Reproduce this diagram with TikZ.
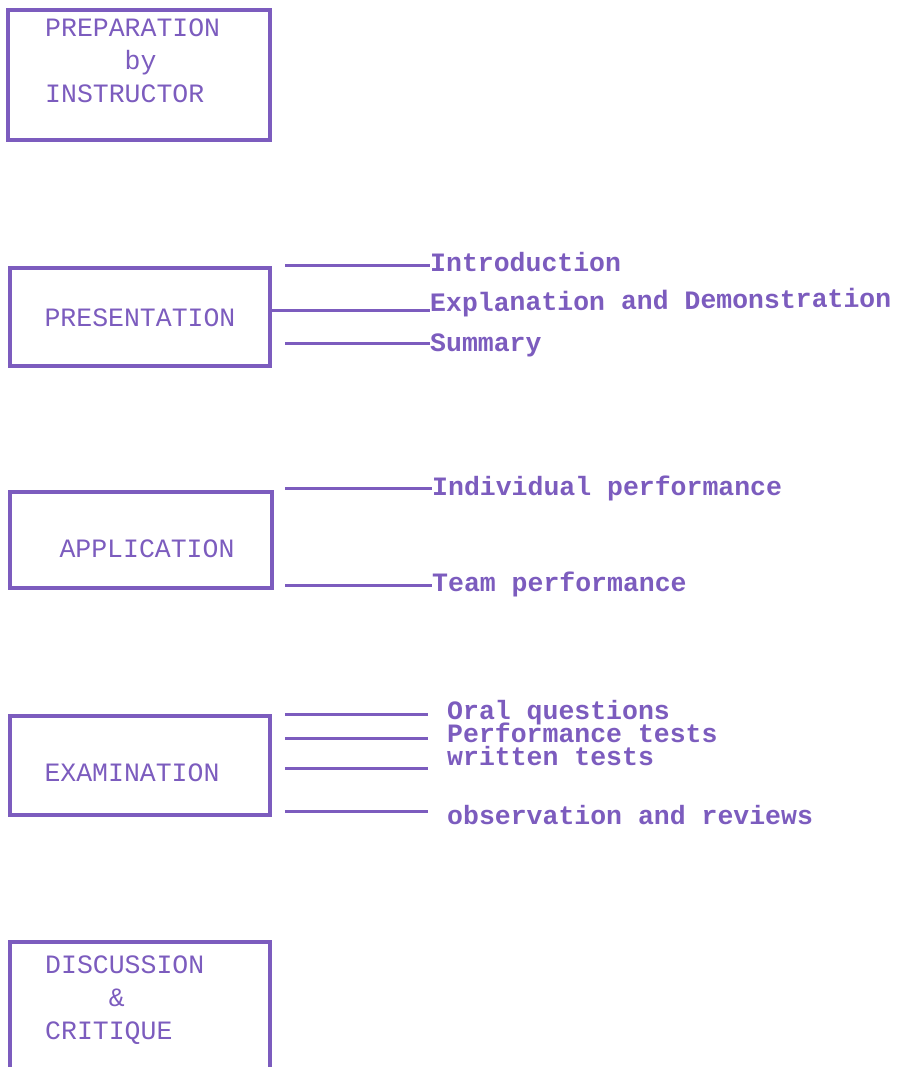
\documentclass[tikz,border=0pt]{standalone}
\usepackage{fontspec}
\newfontfamily\tw{Liberation Mono}
\definecolor{ink}{RGB}{124,92,190}
\begin{document}
\begin{tikzpicture}[x=1pt,y=-1pt,
  box/.style={draw=ink,line width=3.5pt,minimum width=#1,inner sep=0pt},
  boxtext/.style={text=ink,font=\tw\fontsize{26.5}{33}\selectfont,inner sep=0pt,align=left},
  lab/.style={text=ink,font=\tw\bfseries\fontsize{26.5}{33}\selectfont,inner sep=0pt,anchor=west,text height=0.55em,text depth=0pt},
  conn/.style={draw=ink,line width=3pt}]
\useasboundingbox (0,0) rectangle (898,1067);
\clip (0,0) rectangle (898,1067);
% boxes
\node[box=262pt,minimum height=130pt] (b1) at (139,75) {};
\node[box=260pt,minimum height=98pt] (b2) at (140,317) {};
\node[box=262pt,minimum height=96pt] (b3) at (141,540) {};
\node[box=260pt,minimum height=99pt] (b4) at (140,765.5) {};
\node[box=260pt,minimum height=160pt] (b5) at (140,1022) {};
% box texts
\node[boxtext,anchor=north west] (t1) at (45,19) {PREPARATION\\\phantom{XXXXX}by\\INSTRUCTOR};
\node[boxtext] (t2) at (140,318) {PRESENTATION};
\node[boxtext] (t3) at (147,549) {APPLICATION};
\node[boxtext] (t4) at (132,773) {EXAMINATION};
\node[boxtext,anchor=north west] (t5) at (45,956) {DISCUSSION\\\phantom{XXXX}\&\\CRITIQUE};
% labels
\node[lab] (intro) at (430,269) {Introduction};
\node[lab,rotate=0.6] (expl) at (430,309) {Explanation and Demonstration};
\node[lab] (summ) at (430,349) {Summary};
\node[lab] (indiv) at (432,493) {Individual performance};
\node[lab] (team) at (432,589) {Team performance};
\node[lab] (oral) at (447,717) {Oral questions};
\node[lab] (perf) at (447,740) {Performance tests};
\node[lab] (writ) at (447,763) {written tests};
\node[lab] (obs) at (447,822) {observation and reviews};
% connector coordinates
\coordinate (c1) at (285,265);
\coordinate (c2) at (270,310);
\coordinate (c3) at (285,343);
\coordinate (c4) at (285,488);
\coordinate (c5) at (285,585);
\coordinate (c6) at (285,714);
\coordinate (c7) at (285,738);
\coordinate (c8) at (285,768);
\coordinate (c9) at (285,811);
% connectors
\draw[conn] (c1) -- (c1 -| intro.west);
\draw[conn] (b2.east |- c2) -- (c2 -| expl.west);
\draw[conn] (c3) -- (c3 -| summ.west);
\draw[conn] (c4) -- (c4 -| indiv.west);
\draw[conn] (c5) -- (c5 -| team.west);
\draw[conn,shorten >=19pt] (c6) -- (c6 -| oral.west);
\draw[conn,shorten >=19pt] (c7) -- (c7 -| perf.west);
\draw[conn,shorten >=19pt] (c8) -- (c8 -| writ.west);
\draw[conn,shorten >=19pt] (c9) -- (c9 -| obs.west);
\end{tikzpicture}
\end{document}
